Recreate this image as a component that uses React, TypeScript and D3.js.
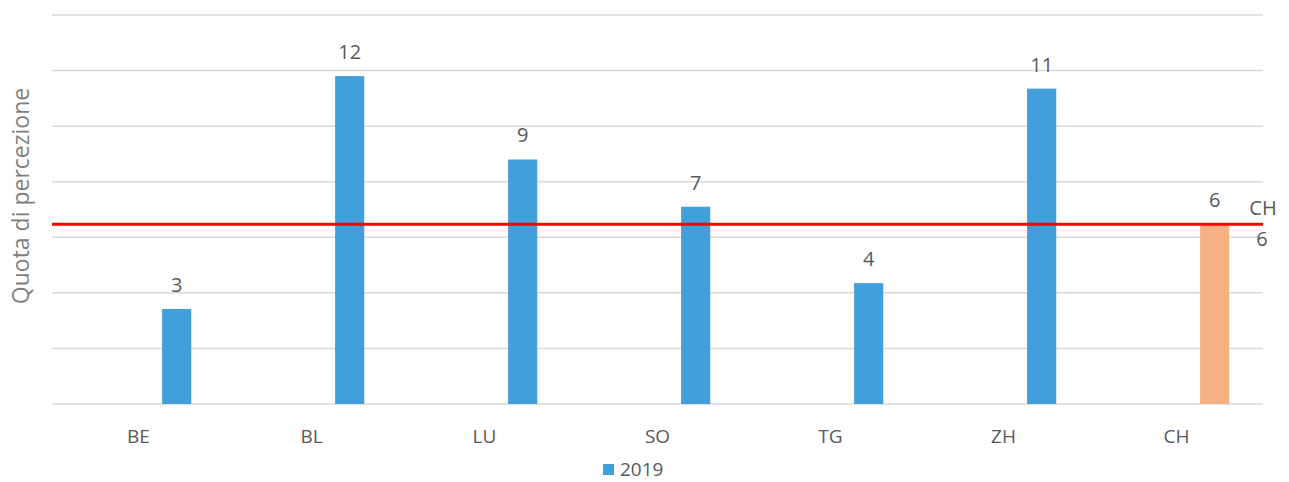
import React from 'react';
import * as d3 from 'd3';

const categories = ['BE', 'BL', 'LU', 'SO', 'TG', 'ZH', 'CH'];
const series = ['', '2019'];
const values = [3.42, 11.8, 8.8, 7.1, 4.35, 11.35, 6.47];
const labels = ['3', '12', '9', '7', '4', '11', '6'];
const chValue = 6.47;
const chLabel = ['CH', '6'];
const yTicks = [0, 2, 4, 6, 8, 10, 12, 14];

const width = 1289;
const height = 482;
const margin = { top: 15, right: 26, bottom: 78, left: 52 };

const App = () => {
  const x = d3
    .scaleBand()
    .domain(categories)
    .range([margin.left, width - margin.right]);

  const xInner = d3
    .scaleBand()
    .domain(series)
    .range([0, x.bandwidth()])
    .paddingInner(0.62)
    .paddingOuter(0.4);

  const y = d3
    .scaleLinear()
    .domain([0, 14])
    .range([height - margin.bottom, margin.top]);

  const font = '"Open Sans", sans-serif';
  const textColor = '#595959';

  return (
    <svg width={width} height={height} style={{ position: 'absolute', left: 0, top: 0, fontFamily: font }}>
      <rect width={width} height={height} fill="white" />
      {/* grid */}
      {yTicks.map((t) => (
        <line
          key={t}
          x1={margin.left}
          x2={width - margin.right}
          y1={y(t)}
          y2={y(t)}
          stroke="#d9d9d9"
          strokeWidth={1.5}
        />
      ))}

      {/* bars */}
      {categories.map((c, i) => {
        const bx = (x(c) as number) + (xInner('2019') as number) - 1;
        const bw = xInner.bandwidth() - 1;
        return (
          <g key={c}>
            <rect
              x={bx}
              y={y(values[i])}
              width={bw}
              height={y(0) - y(values[i])}
              fill={c === 'CH' ? '#f4b183' : '#41a0dc'}
            />
            <text
              x={bx + bw / 2}
              y={y(values[i]) - 17}
              textAnchor="middle"
              fontSize={20}
              fill={textColor}
            >
              {labels[i]}
            </text>
            <text
              x={(x(c) as number) + x.bandwidth() / 2}
              y={y(0) + 39}
              textAnchor="middle"
              fontSize={19}
              fill={textColor}
            >
              {c}
            </text>
          </g>
        );
      })}

      {/* CH average line */}
      <line
        x1={margin.left}
        x2={width - margin.right}
        y1={y(chValue)}
        y2={y(chValue)}
        stroke="#ff0000"
        strokeWidth={3}
      />
      <text x={width - margin.right} y={y(chValue) - 9} textAnchor="middle" fontSize={20} fill={textColor}>
        {chLabel[0]}
      </text>
      <text x={width - margin.right - 1} y={y(chValue) + 22} textAnchor="middle" fontSize={20} fill={textColor}>
        {chLabel[1]}
      </text>

      {/* y axis title */}
      <text
        transform={`translate(29, 196) rotate(-90)`}
        textAnchor="middle"
        fontSize={23}
        fill="#7f7f7f"
      >
        Quota di percezione
      </text>

      {/* legend */}
      <rect x={603} y={464} width={11} height={11} fill="#41a0dc" />
      <text x={620} y={476} fontSize={19} fill={textColor}>
        {series[1]}
      </text>
    </svg>
  );
};

export default App;
